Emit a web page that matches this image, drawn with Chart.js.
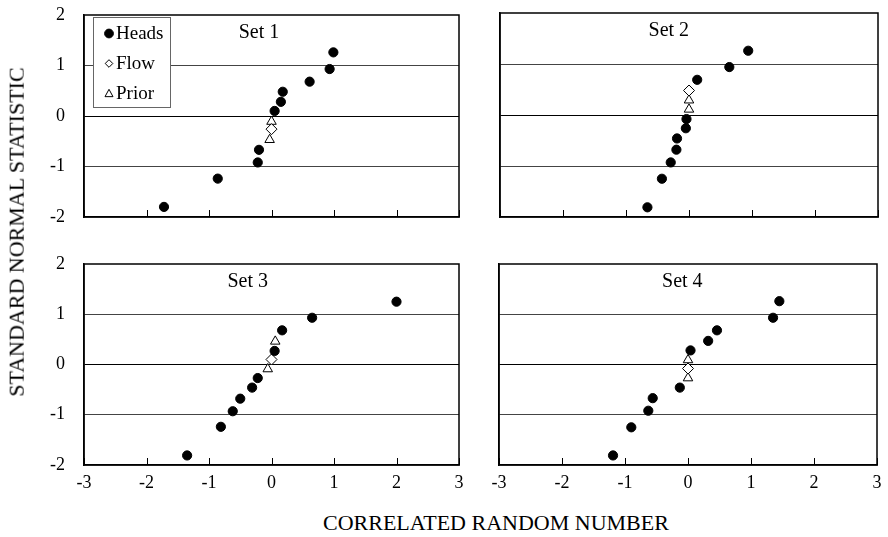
<!DOCTYPE html>
<html>
<head>
<meta charset="utf-8">
<script src="https://cdn.jsdelivr.net/npm/chart.js@4.4.0/dist/chart.umd.min.js"></script>
<style>
  body { margin: 0; background: #fff; }
  #wrap { position: relative; width: 888px; height: 537px; overflow: hidden; background: #fff; }
  canvas { position: absolute; }
  .axt { position: absolute; font-family: "Liberation Serif", "Times New Roman", serif; font-size: 22px; color: #000; white-space: nowrap; line-height: 1; }
</style>
</head>
<body>
<div id="wrap">
  <canvas id="p1" width="470" height="245" style="left:0;top:0"></canvas>
  <canvas id="p2" width="418" height="245" style="left:470px;top:0"></canvas>
  <canvas id="p3" width="470" height="255" style="left:0;top:245px"></canvas>
  <canvas id="p4" width="418" height="255" style="left:470px;top:245px"></canvas>
  <div class="axt" id="ytitle">STANDARD NORMAL STATISTIC</div>
  <div class="axt" id="xtitle">CORRELATED RANDOM NUMBER</div>
</div>
<script>
// tick values
var xTicks = [-3, -2, -1, 0, 1, 2, 3];
var yTicks = [-2, -1, 0, 1, 2];

// [correlated random number, standard normal statistic]
var set1Heads = [[-1.72, -1.80], [-0.86, -1.24], [-0.22, -0.92], [-0.20, -0.67], [0.05, 0.10],
                 [0.15, 0.28], [0.18, 0.48], [0.61, 0.68], [0.93, 0.93], [0.99, 1.26]];
var set1Flow = [[0.0, -0.26]];
var set1Prior = [[0.0, -0.11], [-0.03, -0.47]];

var set2Heads = [[-0.66, -1.81], [-0.43, -1.25], [-0.29, -0.93], [-0.20, -0.68], [-0.19, -0.46],
                 [-0.05, -0.26], [-0.04, -0.08], [0.13, 0.69], [0.64, 0.94], [0.94, 1.26]];
var set2Flow = [[0.0, 0.48]];
var set2Prior = [[0.0, 0.29], [0.0, 0.11]];

var set3Heads = [[-1.35, -1.81], [-0.81, -1.24], [-0.62, -0.93], [-0.50, -0.68], [-0.31, -0.46],
                 [-0.22, -0.27], [0.05, 0.27], [0.17, 0.68], [0.65, 0.93], [2.0, 1.25]];
var set3Flow = [[0.0, 0.10]];
var set3Prior = [[0.06, 0.46], [-0.06, -0.09]];

var set4Heads = [[-1.19, -1.81], [-0.90, -1.25], [-0.63, -0.92], [-0.56, -0.67], [-0.13, -0.46],
                 [0.04, 0.28], [0.32, 0.47], [0.46, 0.68], [1.35, 0.93], [1.45, 1.26]];
var set4Flow = [[0.0, -0.08]];
var set4Prior = [[0.0, 0.09], [0.0, -0.27]];

var setNames = ["Set 1", "Set 2", "Set 3", "Set 4"];
var setTitleX = [-0.2, -0.32, -0.38, -0.09];
var setTitleY = 1.65;

var serif = '"Liberation Serif", "Times New Roman", serif';

function toPts(arr) {
  return arr.map(function (p) { return { x: p[0], y: p[1] }; });
}

function drawMark(ctx, style, x, y, r) {
  ctx.beginPath();
  if (style == "circle") {
    ctx.arc(x, y, r, 0, Math.PI * 2);
  } else if (style == "rectRot") {
    ctx.moveTo(x, y - r); ctx.lineTo(x + r, y); ctx.lineTo(x, y + r); ctx.lineTo(x - r, y);
    ctx.closePath();
  } else {
    ctx.moveTo(x, y - r); ctx.lineTo(x + r * 0.95, y + r * 0.75); ctx.lineTo(x - r * 0.95, y + r * 0.75);
    ctx.closePath();
  }
  ctx.fill();
  ctx.stroke();
}

// frame, inside ticks, set label and legend box
var decor = {
  id: "decor",
  afterDraw: function (chart, args, opts) {
    var ctx = chart.ctx, a = chart.chartArea;
    var x = chart.scales.x, y = chart.scales.y;
    ctx.save();
    ctx.strokeStyle = "#000";
    ctx.lineWidth = 1.5;
    ctx.strokeRect(a.left, a.top, a.right - a.left, a.bottom - a.top);
    ctx.lineWidth = 1;
    xTicks.forEach(function (v) {
      var px = Math.round(x.getPixelForValue(v)) + 0.5;
      ctx.beginPath();
      ctx.moveTo(px, a.bottom);
      ctx.lineTo(px, a.bottom - 7);
      ctx.stroke();
    });
    ctx.fillStyle = "#000";
    ctx.font = "20px " + serif;
    ctx.textAlign = "center";
    ctx.textBaseline = "middle";
    ctx.fillText(opts.title, x.getPixelForValue(opts.titleX), y.getPixelForValue(setTitleY));

    if (opts.legend) {
      var bx = a.left + 9.5, by = a.top + 2.5;
      ctx.fillStyle = "#fff";
      ctx.fillRect(bx, by, 77, 90);
      ctx.strokeStyle = "#666";
      ctx.strokeRect(bx, by, 77, 90);
      ctx.font = "19px " + serif;
      ctx.textAlign = "left";
      var sizes = [4.4, 3.8, 4.2];
      chart.data.datasets.forEach(function (ds, i) {
        var cy = by + 16 + i * 30;
        ctx.fillStyle = ds.backgroundColor;
        ctx.strokeStyle = "#000";
        ctx.lineWidth = 1;
        drawMark(ctx, ds.pointStyle, a.left + 25, cy, sizes[i]);
        ctx.fillStyle = "#000";
        ctx.fillText(ds.label, a.left + 32, cy + 1);
      });
    }
    ctx.restore();
  }
};

function makePanel(id, i, heads, flow, prior, showY, showX, yW, xH, padTop, padRight) {
  return new Chart(document.getElementById(id), {
    type: "scatter",
    data: {
      datasets: [
        { label: "Heads", data: toPts(heads), pointStyle: "circle", pointRadius: 4.6,
          backgroundColor: "#000", borderColor: "#000", borderWidth: 1 },
        { label: "Flow", data: toPts(flow), pointStyle: "rectRot", pointRadius: 5.5,
          backgroundColor: "#fff", borderColor: "#000", borderWidth: 1 },
        { label: "Prior", data: toPts(prior), pointStyle: "triangle", pointRadius: 5.5,
          backgroundColor: "#fff", borderColor: "#000", borderWidth: 1 }
      ]
    },
    options: {
      responsive: false,
      animation: false,
      layout: { padding: { top: padTop, right: padRight, left: 0, bottom: 0 } },
      plugins: {
        legend: { display: false },
        tooltip: { enabled: false },
        decor: { title: setNames[i], titleX: setTitleX[i], legend: i == 0 }
      },
      scales: {
        x: {
          type: "linear", min: -3, max: 3,
          afterBuildTicks: function (s) { s.ticks = xTicks.map(function (v) { return { value: v }; }); },
          afterFit: function (s) { s.height = xH; s.paddingLeft = 0; s.paddingRight = 0; },
          grid: { display: false, drawTicks: false },
          border: { display: true, color: "#000", width: 1.5 },
          ticks: { display: showX, color: "#000", padding: 7, maxRotation: 0, font: { family: serif, size: 18 } }
        },
        y: {
          type: "linear", min: -2, max: 2,
          afterBuildTicks: function (s) { s.ticks = yTicks.map(function (v) { return { value: v }; }); },
          afterFit: function (s) { s.width = yW; s.paddingTop = 0; s.paddingBottom = 0; },
          grid: {
            drawTicks: false,
            lineWidth: 1,
            color: function (c) {
              if (c.tick.value == 0) return "#000";
              if (Math.abs(c.tick.value) == 1) return "#444";
              return "rgba(0,0,0,0)";
            }
          },
          border: { display: true, color: "#000", width: 1.5 },
          ticks: { display: showY, color: "#000", padding: 19, font: { family: serif, size: 18 } }
        }
      }
    },
    plugins: [decor]
  });
}

makePanel("p1", 0, set1Heads, set1Flow, set1Prior, true, false, 84, 28, 15, 11);
makePanel("p2", 1, set2Heads, set2Flow, set2Prior, false, false, 30, 28, 13, 10);
makePanel("p3", 2, set3Heads, set3Flow, set3Prior, true, true, 84, 35, 19, 11);
makePanel("p4", 3, set4Heads, set4Flow, set4Prior, false, true, 29, 35, 19, 11);

// shared axis titles
var yt = document.getElementById("ytitle");
yt.style.left = (16 - yt.offsetWidth / 2) + "px";
yt.style.top = (232 - yt.offsetHeight / 2) + "px";
yt.style.transform = "rotate(-90deg)";
var xt = document.getElementById("xtitle");
xt.style.left = "323px";
xt.style.top = (523 - xt.offsetHeight / 2) + "px";
</script>
</body>
</html>
